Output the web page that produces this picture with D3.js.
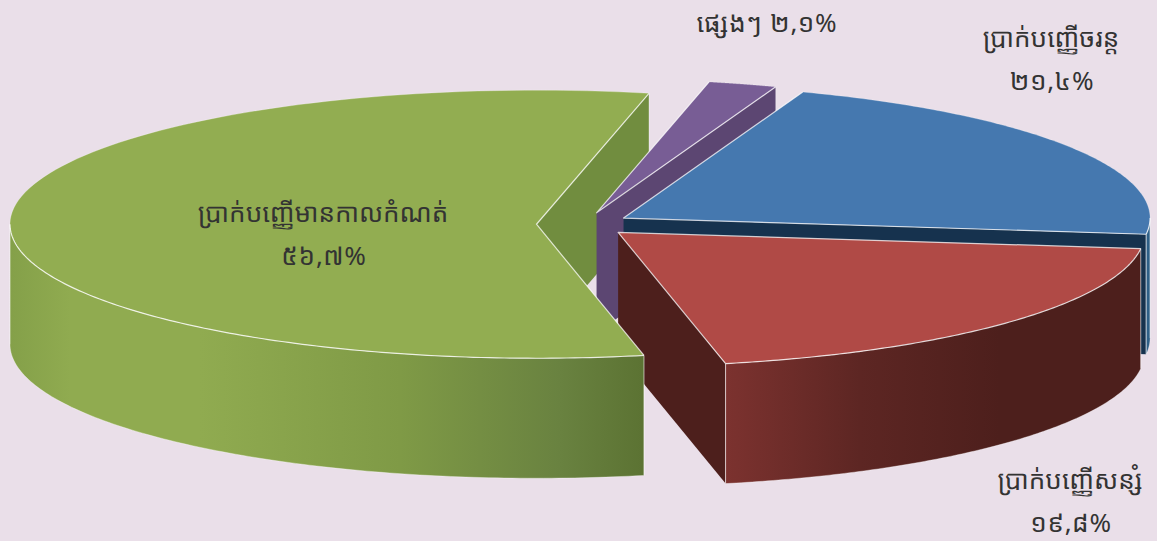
<!DOCTYPE html>
<html>
<head>
<meta charset="utf-8">
<script src="https://cdn.jsdelivr.net/npm/d3@7"></script>
<style>
  html, body { margin: 0; padding: 0; background: #eadfe9; overflow: hidden; }
  text { font-family: "Noto Sans Khmer", "Khmer OS", "Khmer OS Siemreap", "Noto Sans", "DejaVu Sans", sans-serif; fill: #333; font-size: 26px; text-anchor: middle; }
  .value { letter-spacing: 0.8px; }
</style>
</head>
<body>
<div id="chart"></div>
<script>
//data, in pie order (clockwise from the first slice)
var categories = ["ប្រាក់បញ្ញើចរន្ត", "ប្រាក់បញ្ញើសន្សំ", "ប្រាក់បញ្ញើមានកាលកំណត់", "ផ្សេងៗ"];
var values = [21.4, 19.8, 56.7, 2.1];
var valueLabels = ["២១,៤%", "១៩,៨%", "៥៦,៧%", "២,១%"];

//colours per slice
var topColors = ["#4578af", "#b04a46", "#92ad51", "#785d95"];
var wallColors = ["#16324e", "#4d1f1c", "#718d3f", "#5c4672"];
var rimStops = [
  [[1143, "#2f6087"], [1152, "#2f6087"]],
  [[725, "#7c322f"], [860, "#5d2623"], [1000, "#4d1f1c"], [1142, "#4d1f1c"]],
  [[10, "#84a049"], [70, "#90ab50"], [200, "#90ab50"], [400, "#7f9a46"], [560, "#698240"], [642, "#5c7333"]],
  [[0, "#5c4672"], [1, "#5c4672"]]
];

var width = 1157,
  height = 541;

//pie geometry
var centerX = 583.5,
  centerY = 224.3,
  radiusX = 526.5,
  radiusY = 134,
  depth = 120,
  explode = 0.0893,
  firstAngle = (19.9 * Math.PI) / 180;

var xScale = d3.scaleLinear().domain([-1, 1]).range([centerX - radiusX, centerX + radiusX]);
var yScale = d3.scaleLinear().domain([-1, 1]).range([centerY - radiusY, centerY + radiusY]);

var svg = d3.select("#chart").append("svg").attr("width", width).attr("height", height);

svg.append("rect").attr("width", width).attr("height", height).attr("fill", "#eadfe9");

//horizontal gradients for the outer walls
var defs = svg.append("defs");
rimStops.forEach(function(stops, i) {
  var x0 = stops[0][0],
    x1 = stops[stops.length - 1][0];
  var grad = defs
    .append("linearGradient")
    .attr("id", "rim" + i)
    .attr("gradientUnits", "userSpaceOnUse")
    .attr("x1", x0)
    .attr("x2", x1)
    .attr("y1", 0)
    .attr("y2", 0);
  stops.forEach(function(s) {
    grad.append("stop").attr("offset", (s[0] - x0) / (x1 - x0)).attr("stop-color", s[1]);
  });
});

var pie = d3
  .pie()
  .sort(null)
  .startAngle(firstAngle)
  .endAngle(firstAngle + 2 * Math.PI);

var slices = pie(values);

var line = d3
  .line()
  .x(function(p) { return p[0]; })
  .y(function(p) { return p[1]; });

//centre of a slice after pulling it out along its middle angle
var apex = function(d) {
  var mid = (d.startAngle + d.endAngle) / 2;
  return [xScale(explode * Math.sin(mid)), yScale(-explode * Math.cos(mid))];
};

//point on the rim of a slice, angle clockwise from the top
var rimPoint = function(d, a) {
  var c = apex(d);
  return [c[0] + radiusX * Math.sin(a), c[1] - radiusY * Math.cos(a)];
};

var arcPoints = function(d, a0, a1) {
  var n = 120;
  return d3.range(n + 1).map(function(i) {
    return rimPoint(d, a0 + ((a1 - a0) * i) / n);
  });
};

var drop = function(p) {
  return [p[0], p[1] + depth];
};

var edge = function(pts, opacity, w) {
  svg
    .append("path")
    .attr("d", line(pts))
    .attr("fill", "none")
    .attr("stroke", "#fff")
    .attr("stroke-opacity", opacity)
    .attr("stroke-width", w)
    .attr("stroke-linejoin", "round");
};

var drawWall = function(d, i) {
  var c = apex(d),
    e = rimPoint(d, d.endAngle);
  svg
    .append("path")
    .attr("d", line([c, e, drop(e), drop(c)]) + "Z")
    .attr("fill", wallColors[i]);
  edge([e, drop(e)], 0.35, 1);
};

var drawRim = function(d, i) {
  //only the part of the rim facing the viewer
  var a0 = Math.max(d.startAngle, Math.PI / 2),
    a1 = Math.min(d.endAngle, (3 * Math.PI) / 2);
  if (a1 <= a0) return;
  var pts = arcPoints(d, a0, a1);
  var lower = pts.map(drop);
  svg
    .append("path")
    .attr("d", line(pts.concat(lower.slice().reverse())) + "Z")
    .attr("fill", "url(#rim" + i + ")");
  edge(lower, 0.35, 1);
  edge([pts[0], lower[0]], 0.6, 1);
  edge([pts[pts.length - 1], lower[lower.length - 1]], 0.6, 1);
};

var drawTop = function(d, i) {
  var c = apex(d);
  svg
    .append("path")
    .attr("d", line([c].concat(arcPoints(d, d.startAngle, d.endAngle))) + "Z")
    .attr("fill", topColors[i]);
  //the straight edges and the front of the rim are lit, the back fades out
  edge([rimPoint(d, d.startAngle), c, rimPoint(d, d.endAngle)], 0.75, 1.2);
  var a0 = Math.max(d.startAngle, Math.PI / 2),
    a1 = Math.min(d.endAngle, (3 * Math.PI) / 2);
  if (a1 > a0) edge(arcPoints(d, a0, a1), 0.8, 1.2);
  var b0 = Math.max(d.startAngle, (3 * Math.PI) / 2);
  if (d.endAngle > b0) edge(arcPoints(d, b0, d.endAngle), 0.25, 1);
  var f1 = Math.min(d.endAngle, Math.PI / 2);
  if (f1 > d.startAngle) edge(arcPoints(d, d.startAngle, f1), 0.25, 1);
};

//back to front. the green top has to cover the purple and red walls
var green = categories.length - 2;
drawWall(slices[green], green);
[3, 0, 1].forEach(function(i) {
  drawWall(slices[i], i);
  drawRim(slices[i], i);
  drawTop(slices[i], i);
});
drawRim(slices[green], green);
drawTop(slices[green], green);

//labels
var labelAt = [[1051, 47], [1070, 489], [323, 222]];
labelAt.forEach(function(p, i) {
  svg.append("text").attr("x", p[0]).attr("y", p[1]).text(categories[i]);
  svg.append("text").attr("class", "value").attr("x", p[0] + 1).attr("y", p[1] + 43).text(valueLabels[i]);
});
svg.append("text").attr("class", "value").attr("x", 767).attr("y", 32).text(categories[3] + " " + valueLabels[3]);
</script>
</body>
</html>
